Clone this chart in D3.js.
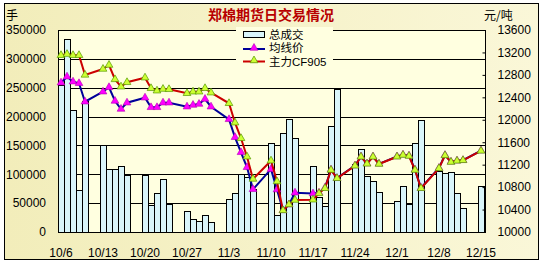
<!DOCTYPE html>
<html><head><meta charset="utf-8">
<script src="https://cdn.jsdelivr.net/npm/d3@7"></script>
<style>body{margin:0;background:#fff;} svg{display:block;}</style>
</head><body>
<svg id="c" width="542" height="264"></svg>
<script>
// ---- data ----
const tradingDays = [
  "2008-10-06","2008-10-07","2008-10-08","2008-10-09","2008-10-10",
  "2008-10-13","2008-10-14","2008-10-15","2008-10-16","2008-10-17",
  "2008-10-20","2008-10-21","2008-10-22","2008-10-23","2008-10-24",
  "2008-10-27","2008-10-28","2008-10-29","2008-10-30","2008-10-31",
  "2008-11-03","2008-11-04","2008-11-05","2008-11-06","2008-11-07",
  "2008-11-10","2008-11-11","2008-11-12","2008-11-13","2008-11-14",
  "2008-11-17","2008-11-18","2008-11-19","2008-11-20","2008-11-21",
  "2008-11-24","2008-11-25","2008-11-26","2008-11-27","2008-11-28",
  "2008-12-01","2008-12-02","2008-12-03","2008-12-04","2008-12-05",
  "2008-12-08","2008-12-09","2008-12-10","2008-12-11","2008-12-12",
  "2008-12-15"
];
const totalVolume = [
  255000,334000,212000,73000,227000,
  151000,109000,109000,115000,98000,
  98000,46000,68000,92000,48000,
  36000,23000,19000,29000,17000,
  58000,68000,100000,96000,75000,
  155000,30000,172000,196000,163000,
  115000,61000,45000,183000,248000,
  118000,144000,97000,88000,70000,
  53000,79000,48000,154000,194000,
  105000,103000,104000,67000,42000,
  79000
];
const avgPrice = [
  12661,12768,12679,12650,12322,
  12500,12579,12335,12192,12304,
  12393,12222,12222,12304,12304,
  12233,12263,12281,12370,12233,
  12008,11688,11420,11153,10761,
  11120,10755,10385,10490,10700,
  10685,10700,10790,11110,10960,
  11185,11345,11220,11345,11215,
  11345,11375,11360,11110,10785,
  11140,11370,11250,11270,11280,
  11450
];
const mainPrice = [
  13150,13170,13150,13150,12800,
  12905,12976,12720,12590,12668,
  12750,12561,12518,12548,12543,
  12472,12500,12500,12561,12483,
  12294,11948,11670,11342,10945,
  11271,10900,10385,10490,10570,
  10575,10689,10779,11105,10957,
  11180,11340,11215,11340,11212,
  11342,11372,11354,11105,10779,
  11135,11365,11247,11268,11277,
  11446
];
const volumeTicks = [0,50000,100000,150000,200000,250000,300000,350000];
const priceTicks = [10000,10400,10800,11200,11600,12000,12400,12800,13200,13600];
const xTickDays = ["2008-10-06","2008-10-13","2008-10-20","2008-10-27","2008-11-03","2008-11-10",
                   "2008-11-17","2008-11-24","2008-12-01","2008-12-08","2008-12-15"];
const xTickLabels = ["10/6","10/13","10/20","10/27","11/3","11/10","11/17","11/24","12/1","12/8","12/15"];
const seriesNames = ["总成交","均线价","主力CF905"];
const titleText = "郑棉期货日交易情况";

// ---- layout ----
const W = 542, H = 264;
const L = 58, R = 484, T = 30, B = 232;
const svg = d3.select("#c");
const parse = d3.timeParse("%Y-%m-%d");
const fmt = d3.timeFormat("%Y-%m-%d");

const allDays = d3.timeDay.range(parse(tradingDays[0]), d3.timeDay.offset(parse(tradingDays[tradingDays.length-1]), 1)).map(fmt);
const x = d3.scaleBand().domain(allDays).range([L, R]).padding(0);
const yL = d3.scaleLinear().domain([0, 350000]).range([B, T]);
const yR = d3.scaleLinear().domain([10000, 13600]).range([B, T]);

const defs = svg.append("defs");
const g1 = defs.append("linearGradient").attr("id","bg").attr("x1","0").attr("y1","0").attr("x2","1").attr("y2","0");
g1.append("stop").attr("offset","0").attr("stop-color","#F2EDBA");
g1.append("stop").attr("offset","1").attr("stop-color","#FAF7D8");

// outer background + border
svg.append("rect").attr("x",0).attr("y",0).attr("width",W).attr("height",H).attr("fill","#fff");
svg.append("rect").attr("x",4.5).attr("y",3.5).attr("width",534).attr("height",256)
  .attr("fill","url(#bg)").attr("stroke","#000").attr("stroke-width",1);

// plot background
svg.append("rect").attr("x",L).attr("y",T).attr("width",R-L+1).attr("height",B-T)
  .attr("fill","#FFFFE0");

// gridlines
svg.append("g").selectAll("line").data(volumeTicks.slice(1)).join("line")
  .attr("x1",L).attr("x2",R+1)
  .attr("y1",d=>Math.round(yL(d))+0.5).attr("y2",d=>Math.round(yL(d))+0.5)
  .attr("stroke","#000").attr("stroke-width",1);

// bars
const barData = tradingDays.map((d,i)=>({d, v: totalVolume[i]}));
svg.append("g").selectAll("rect").data(barData).join("rect")
  .attr("x", d=>x(d.d)+0.5)
  .attr("y", d=>Math.round(yL(d.v))+0.5)
  .attr("width", x.bandwidth())
  .attr("height", d=>B - Math.round(yL(d.v)))
  .attr("fill","#D9F5FA").attr("stroke","#000").attr("stroke-width",1);

// axes frame
const frame = svg.append("g").attr("stroke","#000").attr("stroke-width",1);
frame.append("line").attr("x1",L+0.5).attr("x2",L+0.5).attr("y1",T).attr("y2",B+0.5);
frame.append("line").attr("x1",R+1.5).attr("x2",R+1.5).attr("y1",T).attr("y2",B+0.5);
frame.append("line").attr("x1",L).attr("x2",R+2).attr("y1",B+0.5).attr("y2",B+0.5);
frame.append("line").attr("x1",L).attr("x2",R+2).attr("y1",T+0.5).attr("y2",T+0.5);

// right axis ticks (inside)
const rAxis = d3.axisRight(yR).tickValues(priceTicks).tickSize(-3).tickPadding(12).tickFormat(d3.format("d"));
const rg = svg.append("g").attr("transform",`translate(${R+1.5},0)`).call(rAxis);
rg.select(".domain").remove();
rg.selectAll("text").attr("font-family","Liberation Sans, Arial, sans-serif").attr("font-size",12).attr("fill","#000");

// left axis labels
const lAxis = d3.axisLeft(yL).tickValues(volumeTicks).tickSize(0).tickPadding(12).tickFormat(d3.format("d"));
const lg = svg.append("g").attr("transform",`translate(${L},0)`).call(lAxis);
lg.select(".domain").remove();
lg.selectAll("text").attr("font-family","Liberation Sans, Arial, sans-serif").attr("font-size",12).attr("fill","#000");

// x axis labels
const xAxis = d3.axisBottom(x).tickValues(xTickDays).tickSize(0).tickPadding(16)
  .tickFormat((d)=>xTickLabels[xTickDays.indexOf(d)]);
const xg = svg.append("g").attr("transform",`translate(0,${B})`).call(xAxis);
xg.select(".domain").remove();
xg.selectAll("text").attr("font-family","Liberation Sans, Arial, sans-serif").attr("font-size",12).attr("fill","#000");

// lines
const cx = d => x(d) + x.bandwidth()/2;
const avgData = tradingDays.map((d,i)=>({d, v: avgPrice[i]}));
const mainData = tradingDays.map((d,i)=>({d, v: mainPrice[i]}));
const lineGen = d3.line().x(p=>cx(p.d)).y(p=>yR(p.v));
const tri = d3.symbol().type(d3.symbolTriangle).size(26);

svg.append("path").datum(avgData).attr("d",lineGen).attr("fill","none")
  .attr("stroke","#000099").attr("stroke-width",2);
svg.append("g").selectAll("path").data(avgData).join("path")
  .attr("d",tri).attr("transform",p=>`translate(${cx(p.d)},${yR(p.v)})`)
  .attr("fill","#FF00FF").attr("stroke","#B000B0").attr("stroke-width",0.6);

svg.append("path").datum(mainData).attr("d",lineGen).attr("fill","none")
  .attr("stroke","#CC0000").attr("stroke-width",2);
svg.append("g").selectAll("path").data(mainData).join("path")
  .attr("d",tri).attr("transform",p=>`translate(${cx(p.d)},${yR(p.v)})`)
  .attr("fill","#CCFF33").attr("stroke","#559900").attr("stroke-width",0.7);

// legend
const lgX = 236, lgY = 27;
svg.append("rect").attr("x",lgX).attr("y",lgY).attr("width",97).attr("height",41).attr("fill","#FFFFE0");
const cjk = "'Noto Sans CJK SC', 'Noto Sans', sans-serif";
svg.append("rect").attr("x",243.5).attr("y",31.5).attr("width",21).attr("height",6)
  .attr("fill","#D9F5FA").attr("stroke","#000").attr("stroke-width",1);
svg.append("line").attr("x1",243).attr("x2",265).attr("y1",49).attr("y2",49).attr("stroke","#000099").attr("stroke-width",2);
svg.append("path").attr("d",tri).attr("transform","translate(254,48)").attr("fill","#FF00FF").attr("stroke","#B000B0").attr("stroke-width",0.6);
svg.append("line").attr("x1",243).attr("x2",265).attr("y1",61.5).attr("y2",61.5).attr("stroke","#CC0000").attr("stroke-width",2);
svg.append("path").attr("d",tri).attr("transform","translate(254,60.5)").attr("fill","#CCFF33").attr("stroke","#559900").attr("stroke-width",0.7);
const legendY = [38.5, 52, 65.5];
svg.append("g").selectAll("text").data(seriesNames).join("text")
  .attr("x",269).attr("y",(d,i)=>legendY[i]).text(d=>d)
  .attr("font-family","'Liberation Sans', 'Noto Sans CJK SC', sans-serif").attr("font-size",11.5).attr("fill","#000");

// title and unit labels
svg.append("text").attr("x",271).attr("y",20).attr("text-anchor","middle")
  .attr("font-family",cjk).attr("font-weight","bold").attr("font-size",14)
  .attr("fill","#B80000").text(titleText);
svg.append("text").attr("x",6).attr("y",20).attr("font-family",cjk).attr("font-size",12).attr("fill","#000").text("手");
svg.append("text").attr("x",484).attr("y",20).attr("font-family",cjk).attr("font-size",12).attr("fill","#000").text("元/吨");
</script>
</body></html>
